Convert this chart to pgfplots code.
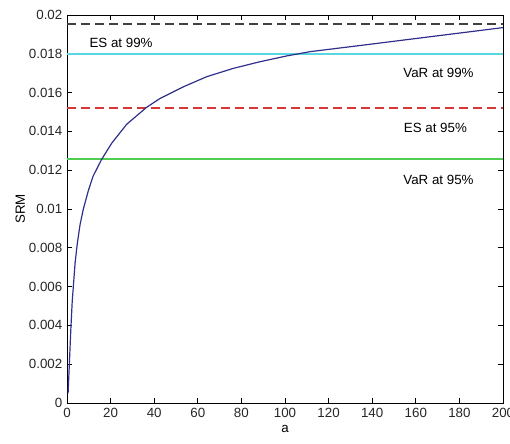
\documentclass[border=0pt]{standalone}
\usepackage{pgfplots}
\pgfplotsset{compat=1.18}
\usepackage{fontspec}
\setmainfont{Liberation Sans}

\definecolor{srmblue}{RGB}{48,48,140}
\definecolor{esninenine}{RGB}{65,65,65}
\definecolor{varninenine}{RGB}{90,215,225}
\definecolor{esninefive}{RGB}{215,55,55}
\definecolor{varninefive}{RGB}{80,205,80}

% spectral risk measure against the risk-aversion coefficient a
\pgfplotstableread{
a      srm
0.5    0.00050
1.0    0.00180
1.8    0.00390
2.4    0.00525
2.9    0.00600
3.7    0.00720
4.7    0.00820
6.0    0.00920
7.5    0.01000
9.8    0.01095
12.0   0.01170
15.9   0.01256
20.5   0.01339
27.4   0.01437
36.5   0.01524
42.7   0.01570
53.4   0.01630
64.1   0.01682
76.3   0.01725
88.5   0.01759
100.8  0.01789
111.5  0.01811
137.5  0.01847
168.0  0.01890
200.0  0.01935
}\srmdata

\begin{document}
\begin{tikzpicture}
\begin{axis}[
  scale only axis,
  width=327pt, height=291pt,
  xmin=0, xmax=200, ymin=0, ymax=0.02,
  xtick={0,20,...,200},
  ytick={0,0.002,...,0.0201},
  yticklabel style={/pgf/number format/fixed, /pgf/number format/precision=3},
  scaled y ticks=false,
  tick align=inside,
  major tick length=4pt,
  tick style={black, line width=0.5pt},
  axis line style={black, line width=0.6pt},
  tick label style={font=\fontsize{10}{12}\selectfont, text=black!85},
  /pgf/number format/assume math mode=true,
  xlabel={a}, ylabel={SRM},
  label style={font=\fontsize{10}{12}\selectfont},
  xlabel style={yshift=1pt},
  ylabel style={yshift=-4pt},
  clip=true,
]
\addplot[color=esninenine, line width=1.3pt, dash pattern=on 7pt off 3.5pt] coordinates {(0,0.01952) (200,0.01952)};
\addplot[color=varninenine, line width=1.3pt] coordinates {(0,0.0180) (200,0.0180)};
\addplot[color=esninefive, line width=1.3pt, dash pattern=on 7pt off 3.5pt] coordinates {(0,0.01522) (200,0.01522)};
\addplot[color=varninefive, line width=1.4pt] coordinates {(0,0.01256) (200,0.01256)};
\addplot[color=srmblue, line width=0.9pt] table[x=a, y=srm] {\srmdata};

\node[font=\fontsize{10}{12}\selectfont] at (axis cs:24.8,0.01856) {ES at 99\%};
\node[font=\fontsize{10}{12}\selectfont] at (axis cs:170.4,0.01703) {VaR at 99\%};
\node[font=\fontsize{10}{12}\selectfont] at (axis cs:169,0.01419) {ES at 95\%};
\node[font=\fontsize{10}{12}\selectfont] at (axis cs:170.4,0.0115) {VaR at 95\%};
\end{axis}
\pgfresetboundingbox
\path[use as bounding box]
  ([xshift=-50.25pt,yshift=-30pt]current axis.south west)
  rectangle ([xshift=5.25pt,yshift=11.25pt]current axis.north east);
\end{tikzpicture}
\end{document}
